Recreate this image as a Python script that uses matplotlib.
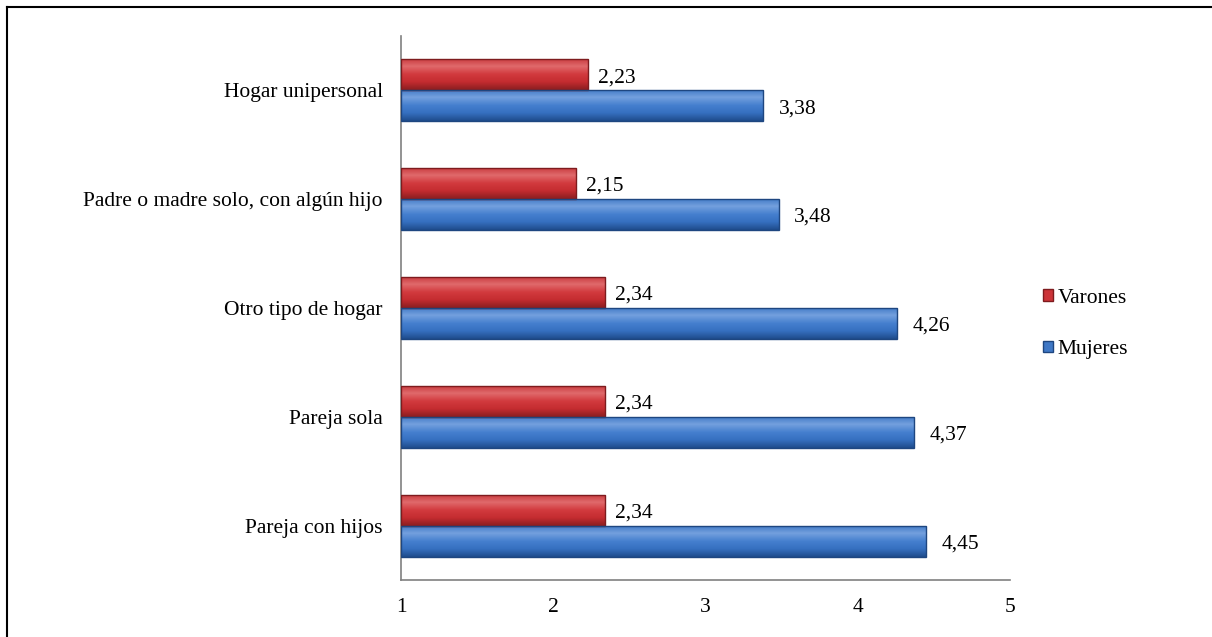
import numpy as np
import matplotlib.pyplot as plt
from matplotlib.patches import Patch
from matplotlib.colors import LinearSegmentedColormap

categorias = ['Pareja con hijos', 'Pareja sola', 'Otro tipo de hogar',
              'Padre o madre solo, con algún hijo', 'Hogar unipersonal']
varones = [2.34, 2.34, 2.34, 2.15, 2.23]
mujeres = [4.45, 4.37, 4.26, 3.48, 3.38]

plt.rcParams['font.family'] = ['Liberation Serif', 'DejaVu Serif']

fig = plt.figure(figsize=(12.12, 6.37), dpi=100)
ax = fig.add_axes([401/1212, 1-580/637, 609/1212, 544/637])

y = np.arange(len(categorias))
h = 0.285
base = 1
rojo, rojo_borde = '#CC3438', '#7E1B1E'
azul, azul_borde = '#3F78C6', '#1E4680'
cm_rojo = LinearSegmentedColormap.from_list('r', ['#8A1E20', '#C42C30', '#D23A3E', '#E06A6C', '#C8383C'])
cm_azul = LinearSegmentedColormap.from_list('b', ['#1F4C8C', '#3670C0', '#4680CF', '#74A0DE', '#3F78C6'])

bv = ax.barh(y + h/2, np.array(varones) - base, height=h, left=base,
             color=rojo, edgecolor=rojo_borde, linewidth=1, zorder=2)
bm = ax.barh(y - h/2, np.array(mujeres) - base, height=h, left=base,
             color=azul, edgecolor=azul_borde, linewidth=1, zorder=2)

# degradado vertical dentro de cada barra
grad = np.linspace(0, 1, 64).reshape(-1, 1)
for bars, cmap in ((bv, cm_rojo), (bm, cm_azul)):
    for b in bars:
        x0, y0, w, hh = b.get_x(), b.get_y(), b.get_width(), b.get_height()
        im = ax.imshow(grad, cmap=cmap, aspect='auto', origin='lower',
                       extent=[x0, x0 + w, y0, y0 + hh], zorder=2.5)
        im.set_clip_path(b)
    for b in bars:
        b.set_facecolor('none')
        b.set_zorder(3)

for i in range(len(categorias)):
    ax.annotate(f'{varones[i]:.2f}'.replace('.', ','), (varones[i], y[i] + h/2),
                xytext=(7, -2), textcoords='offset points', va='center', fontsize=15.5)
    ax.annotate(f'{mujeres[i]:.2f}'.replace('.', ','), (mujeres[i], y[i] - h/2),
                xytext=(11, -2), textcoords='offset points', va='center', fontsize=15.5)

ax.set_xlim(1, 5)
ax.set_ylim(-0.5, 4.5)
ax.set_xticks([1, 2, 3, 4, 5])
ax.set_yticks(y)
ax.set_yticklabels(categorias, fontsize=15.5)
ax.tick_params(axis='both', length=0, labelsize=15.5)
ax.tick_params(axis='x', pad=13)
ax.tick_params(axis='y', pad=13)
for s in ['top', 'right']:
    ax.spines[s].set_visible(False)
for s in ['left', 'bottom']:
    ax.spines[s].set_color('#808080')
    ax.spines[s].set_linewidth(1.2)

handles = [Patch(facecolor=rojo, edgecolor=rojo_borde), Patch(facecolor=azul, edgecolor=azul_borde)]
fig.legend(handles, ['Varones', 'Mujeres'], loc='center left', bbox_to_anchor=(1024/1212, 1-324/637),
           frameon=False, fontsize=15.5, handlelength=0.45, handleheight=0.45, handletextpad=0.2,
           labelspacing=1.5)

# marco del recuadro (solo arriba e izquierda visibles)
fig.add_artist(plt.Line2D([7/1212, 1], [1-7/637, 1-7/637], color='black', lw=1.5, transform=fig.transFigure))
fig.add_artist(plt.Line2D([7/1212, 7/1212], [0, 1-7/637], color='black', lw=1.5, transform=fig.transFigure))

fig.savefig('out.png', dpi=100)
